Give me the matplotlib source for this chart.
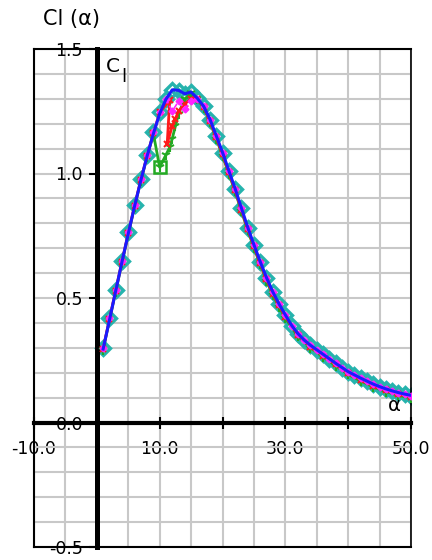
import numpy as np
import matplotlib
matplotlib.use('Agg')
import matplotlib.pyplot as plt
from matplotlib.ticker import MultipleLocator

# Angle of attack (deg) and lift coefficient
alpha = [1, 2, 3, 4, 5, 6, 7, 8, 9, 10,
         11, 12, 13, 14, 15, 16, 17, 18, 19, 20,
         21, 22, 23, 24, 25, 26, 27, 28, 29, 30,
         31, 32, 33, 34, 35, 36, 37, 38, 39, 40,
         41, 42, 43, 44, 45, 46, 47, 48, 49, 50]
cl_cyan = [0.300, 0.418, 0.534, 0.650, 0.764, 0.874, 0.978, 1.075, 1.165, 1.245,
           1.300, 1.335, 1.330, 1.318, 1.328, 1.305, 1.272, 1.215, 1.150, 1.082,
           1.010, 0.938, 0.860, 0.783, 0.712, 0.645, 0.580, 0.523, 0.475, 0.430,
           0.388, 0.356, 0.330, 0.310, 0.292, 0.274, 0.256, 0.238, 0.220, 0.203,
           0.190, 0.177, 0.165, 0.153, 0.143, 0.134, 0.126, 0.119, 0.113, 0.108]

# Blue smooth curve
cl_blue = [0.295, 0.410, 0.528, 0.645, 0.758, 0.868, 0.972, 1.070, 1.160, 1.240,
           1.298, 1.336, 1.334, 1.320, 1.327, 1.302, 1.270, 1.218, 1.152, 1.085,
           1.012, 0.940, 0.862, 0.785, 0.714, 0.646, 0.582, 0.525, 0.476, 0.432,
           0.390, 0.357, 0.331, 0.310, 0.292, 0.274, 0.256, 0.238, 0.221, 0.204,
           0.191, 0.178, 0.166, 0.154, 0.144, 0.135, 0.127, 0.120, 0.114, 0.109]

# Magenta series deviates near the stall
cl_magenta = [0.300, 0.418, 0.534, 0.650, 0.764, 0.874, 0.978, 1.075, 1.165, 1.245,
              1.300, 1.250, 1.290, 1.260, 1.290, 1.300, 1.272, 1.215, 1.150, 1.082,
              1.010, 0.938, 0.860, 0.783, 0.712, 0.645, 0.580, 0.523, 0.475, 0.430,
              0.388, 0.356, 0.330, 0.310, 0.292, 0.274, 0.256, 0.238, 0.220, 0.203,
              0.190, 0.177, 0.165, 0.153, 0.143, 0.134, 0.126, 0.119, 0.113, 0.108]

# Red series
alpha_red = [1, 2, 3, 4, 5, 6, 7, 8, 9, 10, 11.6, 11.2, 12, 12.5, 13, 14, 15, 16, 17, 18,
             19, 20, 21, 22, 23, 24, 25, 26, 27, 28, 29, 30, 32, 34, 36, 38, 40, 42, 44,
             46, 48, 50]
cl_red = [0.296, 0.414, 0.530, 0.646, 0.760, 0.870, 0.974, 1.071, 1.161, 1.245, 1.295, 1.120,
          1.190, 1.220, 1.250, 1.280, 1.300, 1.300, 1.268, 1.210, 1.145, 1.077, 1.005, 0.933,
          0.855, 0.778, 0.707, 0.640, 0.575, 0.518, 0.470, 0.425, 0.351, 0.305, 0.269, 0.233,
          0.198, 0.172, 0.148, 0.129, 0.114, 0.103]

# Green series
alpha_green = [1, 2, 3, 4, 5, 6, 7, 8, 9, 10, 11, 11.6, 12, 12.5, 13, 14, 15, 16, 17, 18,
               19, 20, 21, 22, 23, 24, 25, 26, 27, 28, 29, 30, 32, 34, 36, 38, 40, 42, 44,
               46, 48, 50]
cl_green = [0.292, 0.410, 0.526, 0.642, 0.756, 0.866, 0.970, 1.067, 1.160, 1.025, 1.075, 1.105,
            1.140, 1.190, 1.240, 1.300, 1.322, 1.298, 1.264, 1.206, 1.140, 1.072, 1.000, 0.928,
            0.850, 0.773, 0.702, 0.635, 0.570, 0.513, 0.465, 0.420, 0.346, 0.300, 0.264, 0.228,
            0.193, 0.167, 0.143, 0.124, 0.109, 0.098]
green_sel_alpha = [10]
green_sel_cl = [1.025]

x_ticks = [-10, 0, 10, 20, 30, 40, 50]
x_tick_labels = ['-10.0', '', '10.0', '', '30.0', '', '50.0']
y_ticks = [-0.5, 0.0, 0.5, 1.0, 1.5]
y_tick_labels = ['-0.5', '0.0', '0.5', '1.0', '1.5']


def create_cl_plot():
    W, H = 432, 560
    fig = plt.figure(figsize=(W / 100, H / 100), dpi=100)
    plt.rcParams['font.family'] = ['DejaVu Sans']

    # plot area in pixels: x 34..411, y 49..547
    ax = fig.add_axes([34 / W, 13 / H, 377 / W, 498 / H])
    ax.set_xlim(-10, 50)
    ax.set_ylim(-0.5, 1.5)

    # light grid every 5 deg / 0.1
    ax.xaxis.set_minor_locator(MultipleLocator(5))
    ax.yaxis.set_minor_locator(MultipleLocator(0.1))
    ax.grid(True, which='both', color='#c8c8c8', linewidth=1.5, zorder=0)
    ax.set_axisbelow(True)

    # zero axes carry the ticks, frame drawn separately
    ax.spines['left'].set_position(('data', 0))
    ax.spines['bottom'].set_position(('data', 0))
    ax.spines['left'].set_linewidth(3.6)
    ax.spines['bottom'].set_linewidth(3.0)
    ax.spines['top'].set_linewidth(1.5)
    ax.spines['right'].set_linewidth(1.2)
    ax.axvline(-10, color='black', linewidth=1.5, clip_on=False, zorder=5)
    ax.axhline(-0.5, color='black', linewidth=1.5, clip_on=False, zorder=5)

    ax.set_xticks(x_ticks)
    ax.set_xticklabels(x_tick_labels)
    ax.set_yticks(y_ticks)
    ax.set_yticklabels(y_tick_labels)
    ax.tick_params(axis='x', which='major', direction='inout', length=9, width=1.5,
                   labelsize=12.5, pad=8)
    ax.tick_params(axis='y', which='major', direction='out', length=6, width=1.5,
                   labelsize=12.5, pad=4)
    ax.tick_params(which='minor', length=0)
    for lab in ax.get_xticklabels() + ax.get_yticklabels():
        lab.set_clip_on(False)

    # data series
    ax.plot(alpha, cl_cyan, linestyle='none', marker='D', markersize=7,
            markerfacecolor='none', markeredgecolor='#26b3ad', markeredgewidth=2.4, zorder=2)
    ax.plot(alpha_green, cl_green, color='#22aa22', linewidth=2, marker='1',
            markersize=7, markeredgewidth=1.5, zorder=3)
    ax.plot(green_sel_alpha, green_sel_cl, linestyle='none', marker='s', markersize=9,
            markerfacecolor='none', markeredgecolor='#22aa22', markeredgewidth=1.8, zorder=3)
    ax.plot(alpha_red, cl_red, color='#ff1a1a', linewidth=2, marker='x',
            markersize=5, markeredgewidth=1.5, zorder=3)
    ax.plot(alpha, cl_magenta, color='#ff22ff', linewidth=1.2, linestyle='--',
            marker='D', markersize=3.5, zorder=4)
    ax.plot(alpha, cl_blue, color='#1a1aff', linewidth=2.2, zorder=6)

    # texts
    fig.text(43 / W, 1 - 25 / H, 'Cl (\u03b1)', fontsize=15, va='baseline', ha='left')
    fig.text(106 / W, 1 - 72 / H, 'C', fontsize=14.5, va='baseline', ha='left')
    fig.text(121 / W, 1 - 82 / H, 'l', fontsize=13, va='baseline', ha='left')
    fig.text(388 / W, 1 - 411 / H, '\u03b1', fontsize=14, va='baseline', ha='left')

    fig.savefig('out.png', dpi=100, facecolor='white')


def main():
    create_cl_plot()


if __name__ == "__main__":
    main()
